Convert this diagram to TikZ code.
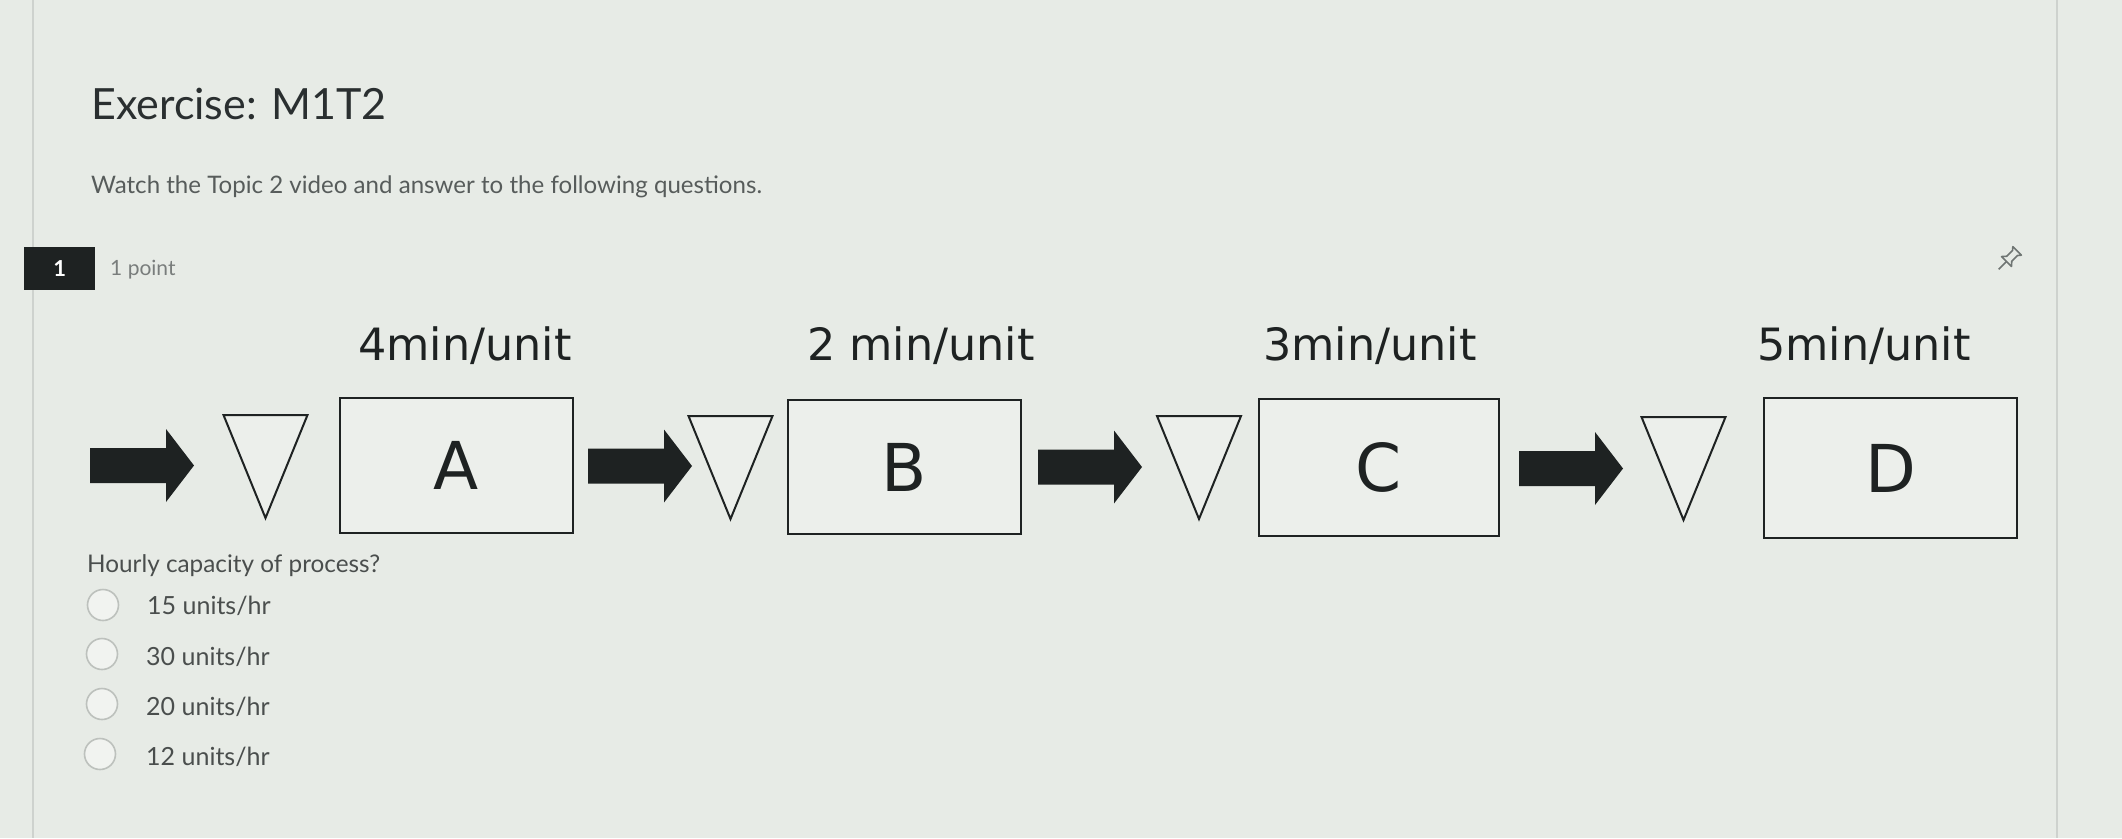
\documentclass[tikz,border=0pt]{standalone}
\usepackage{fontspec}
\setmainfont{Lato}
\newfontfamily\dejavu{DejaVu Sans}
\definecolor{bgc}{HTML}{E7EBE6}
\definecolor{titlec}{HTML}{2A2F30}
\definecolor{bodyc}{HTML}{575C5B}
\definecolor{ink}{HTML}{1E2222}
\definecolor{radioc}{HTML}{BDC1BD}
\definecolor{pinc}{HTML}{6F7573}
\tikzset{
  txt/.style={inner sep=0pt, anchor=base west},
  lbl/.style={inner sep=0pt, anchor=base, text=ink, font=\dejavu\fontsize{44.5}{50}\selectfont},
  procbox/.style={draw=ink, line width=2.2pt, fill=bgc!80!white, text=ink, font=\dejavu\fontsize{66}{70}\selectfont, inner sep=0pt},
  radio/.style={circle, draw=radioc, line width=1.6pt, fill=bgc!60!white, minimum size=31pt, inner sep=0pt},
  buffer/.pic={\draw[ink, line width=2pt, line join=miter, fill=bgc!80!white] (-42,0) -- (42,0) -- (0,103) -- cycle;},
  blockarrow/.pic={\fill[ink] (0,-17.5) -- (76,-17.5) -- (76,-36.5) -- (104,0) -- (76,36.5) -- (76,17.5) -- (0,17.5) -- cycle;}
}
\begin{document}
\begin{tikzpicture}[x=1pt,y=-1pt]
\fill[bgc] (0,0) rectangle (2122,838);
\useasboundingbox (0,0) rectangle (2122,838);
\draw[radioc!60!bgc, line width=1.5pt] (33,0) -- (33,838);
\draw[radioc!60!bgc, line width=1.5pt] (2057,0) -- (2057,838);

% header
\node[txt, text=titlec, font=\fontsize{43}{50}\selectfont] (title) at (91,119) {Exercise: M1T2};
\node[txt, text=bodyc, font=\fontsize{24.1}{28}\selectfont] (intro) at (91,193) {Watch the Topic 2 video and answer to the following questions.};
\node[fill=ink, text=white, minimum width=71pt, minimum height=43pt, inner sep=0pt, anchor=north west, font=\bfseries\fontsize{22}{26}\selectfont] (qnum) at (24,247) {1};
\node[txt, text=bodyc!80!white, font=\fontsize{21}{26}\selectfont] (pts) at (110,275) {1 point};

% pin icon
\begin{scope}[shift={(2010,258)}, rotate=-45, pinc, line width=1.6pt, line join=round]
  \draw (0,5) -- (0,16);
  \draw (-7,5) -- (7,5) -- (3.5,1) -- (3.5,-7) -- (6,-10) -- (-6,-10) -- (-3.5,-7) -- (-3.5,1) -- cycle;
\end{scope}

% diagram
\node[lbl] (la) at (465,360) {4min/unit};
\node[lbl] (lb) at (921,360) {2 min/unit};
\node[lbl] (lc) at (1370,360) {3min/unit};
\node[lbl] (ld) at (1864,360) {5min/unit};

\node[procbox, minimum width=233pt, minimum height=135pt] (A) at (456.5,465.5) {A};
\node[procbox, minimum width=233pt, minimum height=134pt] (B) at (904.5,467) {B};
\node[procbox, minimum width=240pt, minimum height=137pt] (C) at (1379,467.5) {C};
\node[procbox, minimum width=253pt, minimum height=140pt] (D) at (1890.5,468) {D};

\pic at (265.5,415) {buffer};
\pic at (730.5,416) {buffer};
\pic at (1199,416) {buffer};
\pic at (1683.5,417) {buffer};

\pic at (90,465.5) {blockarrow};
\pic at (588,466) {blockarrow};
\pic at (1038,467) {blockarrow};
\pic at (1519,468.5) {blockarrow};

% question
\node[txt, text=bodyc!85!black, font=\fontsize{24.3}{28}\selectfont] (q) at (87,572) {Hourly capacity of process?};
\node[radio] (r1) at (103,605) {};
\node[radio] (r2) at (102,654) {};
\node[radio] (r3) at (102,704) {};
\node[radio] (r4) at (100,754) {};
\node[txt, text=bodyc!85!black, font=\fontsize{25}{28}\selectfont] (o1) at (147,614) {15 units/hr};
\node[txt, text=bodyc!85!black, font=\fontsize{25}{28}\selectfont] (o2) at (146,665) {30 units/hr};
\node[txt, text=bodyc!85!black, font=\fontsize{25}{28}\selectfont] (o3) at (146,715) {20 units/hr};
\node[txt, text=bodyc!85!black, font=\fontsize{25}{28}\selectfont] (o4) at (146,765) {12 units/hr};
\end{tikzpicture}
\end{document}
